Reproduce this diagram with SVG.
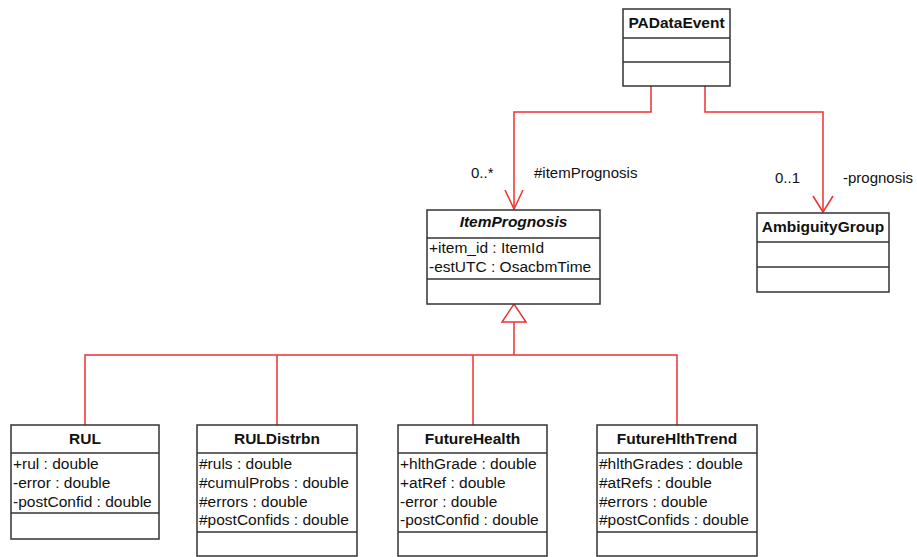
<svg xmlns="http://www.w3.org/2000/svg" width="917" height="557" viewBox="0 0 917 557">
<style>
.box{fill:#fff;stroke:#333;stroke-width:1.5}
.sep{stroke:#333;stroke-width:1.5}
.t{font-family:"Liberation Sans",Arial,sans-serif;font-size:15.5px;font-weight:bold;fill:#111;text-anchor:middle}
.a{font-family:"Liberation Sans",Arial,sans-serif;font-size:15.5px;fill:#111}
.c{fill:none;stroke:#f03030;stroke-width:1.5}
.l{font-family:"Liberation Sans",Arial,sans-serif;font-size:15px;fill:#111}
</style>
<rect width="917" height="557" fill="#fff"/>
<g id="connectors">
<polyline class="c" points="651,86 651,112 514,112 514,209"/>
<polyline class="c" points="505,190 514,209 523,190"/>
<polyline class="c" points="705,86 705,112 823,112 823,212"/>
<polyline class="c" points="813,196 823,212 833,196"/>
<polygon class="c" points="514,304 502,322 526,322" fill="#fff"/>
<polyline class="c" points="514,322 514,355"/>
<polyline class="c" points="85,425 85,355 677,355 677,425"/>
<line class="c" x1="277" y1="355" x2="277" y2="425"/>
<line class="c" x1="473" y1="355" x2="473" y2="425"/>
<text class="l" x="471" y="178">0..*</text>
<text class="l" x="534" y="178">#itemPrognosis</text>
<text class="l" x="775" y="183">0..1</text>
<text class="l" x="843" y="183">-prognosis</text>
</g>
<g id="PADataEvent">
<rect class="box" x="623" y="9" width="107" height="77"/>
<line class="sep" x1="623" y1="38" x2="730" y2="38"/>
<line class="sep" x1="623" y1="62" x2="730" y2="62"/>
<text class="t" x="676.5" y="28">PADataEvent</text>
</g>
<g id="ItemPrognosis">
<rect class="box" x="427" y="210" width="173" height="94"/>
<line class="sep" x1="427" y1="238" x2="600" y2="238"/>
<line class="sep" x1="427" y1="279" x2="600" y2="279"/>
<text class="t" x="513.5" y="227" font-style="italic">ItemPrognosis</text>
<text class="a" x="429" y="253">+item_id : ItemId</text>
<text class="a" x="429" y="272">-estUTC : OsacbmTime</text>
</g>
<g id="AmbiguityGroup">
<rect class="box" x="757" y="213" width="132" height="79"/>
<line class="sep" x1="757" y1="242" x2="889" y2="242"/>
<line class="sep" x1="757" y1="267" x2="889" y2="267"/>
<text class="t" x="823" y="232">AmbiguityGroup</text>
</g>
<g id="RUL">
<rect class="box" x="11" y="425" width="148" height="114"/>
<line class="sep" x1="11" y1="453" x2="159" y2="453"/>
<line class="sep" x1="11" y1="513" x2="159" y2="513"/>
<text class="t" x="85" y="444">RUL</text>
<text class="a" x="13" y="469">+rul : double</text>
<text class="a" x="13" y="488">-error : double</text>
<text class="a" x="13" y="507">-postConfid : double</text>
</g>
<g id="RULDistrbn">
<rect class="box" x="197" y="425" width="160" height="131"/>
<line class="sep" x1="197" y1="453" x2="357" y2="453"/>
<line class="sep" x1="197" y1="532" x2="357" y2="532"/>
<text class="t" x="277" y="444">RULDistrbn</text>
<text class="a" x="199" y="469">#ruls : double</text>
<text class="a" x="199" y="488">#cumulProbs : double</text>
<text class="a" x="199" y="507">#errors : double</text>
<text class="a" x="199" y="525">#postConfids : double</text>
</g>
<g id="FutureHealth">
<rect class="box" x="398" y="425" width="149" height="131"/>
<line class="sep" x1="398" y1="453" x2="547" y2="453"/>
<line class="sep" x1="398" y1="532" x2="547" y2="532"/>
<text class="t" x="472.5" y="444">FutureHealth</text>
<text class="a" x="400" y="469">+hlthGrade : double</text>
<text class="a" x="400" y="488">+atRef : double</text>
<text class="a" x="400" y="507">-error : double</text>
<text class="a" x="400" y="525">-postConfid : double</text>
</g>
<g id="FutureHlthTrend">
<rect class="box" x="597" y="425" width="160" height="131"/>
<line class="sep" x1="597" y1="453" x2="757" y2="453"/>
<line class="sep" x1="597" y1="532" x2="757" y2="532"/>
<text class="t" x="677" y="444">FutureHlthTrend</text>
<text class="a" x="599" y="469">#hlthGrades : double</text>
<text class="a" x="599" y="488">#atRefs : double</text>
<text class="a" x="599" y="507">#errors : double</text>
<text class="a" x="599" y="525">#postConfids : double</text>
</g>
</svg>
